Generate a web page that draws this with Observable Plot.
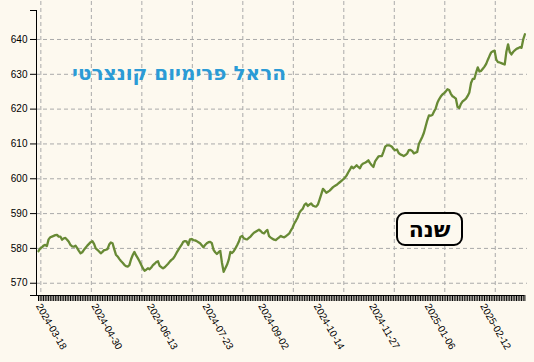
<!DOCTYPE html>
<html>
<head>
<meta charset="utf-8">
<script src="https://cdn.jsdelivr.net/npm/d3@7"></script>
<script src="https://cdn.jsdelivr.net/npm/@observablehq/plot@0.6"></script>
<style>
  html, body { margin: 0; padding: 0; background: #fdf9ef; }
  #wrap { position: relative; width: 534px; height: 362px; overflow: hidden; }
  #title { position: absolute; left: 0; top: 63px; width: 358px; text-align: center;
           font: bold 20px "DejaVu Sans", sans-serif; color: #2b9bd6; line-height: 21px; }
  #badge { position: absolute; left: 396px; top: 212px; width: 67px; height: 34px; box-sizing: border-box;
           border: 2.5px solid #000; border-radius: 9px; background: #fdf9ef;
           display: flex; align-items: center; justify-content: center;
           font: bold 22px "DejaVu Sans", sans-serif; color: #000; }
</style>
</head>
<body>
<div id="wrap">
  <div id="chart"></div>
  <div id="title" dir="rtl">הראל פרימיום קונצרטי</div>
  <div id="badge" dir="rtl">שנה</div>
</div>
<script>
const values = [
579.2,580.0,580.3,580.8,581.0,580.7,582.6,583.2,583.4,583.6,
583.8,583.9,583.4,583.4,582.5,582.9,583.0,582.5,581.9,581.0,
580.6,580.5,580.8,580.1,579.3,578.6,578.9,579.6,580.2,580.8,
581.3,581.8,582.1,581.3,580.0,579.6,579.1,578.6,579.0,579.5,
579.6,579.8,581.1,581.7,581.5,579.8,578.2,577.7,577.0,576.4,
575.9,575.3,574.9,574.8,575.2,576.9,578.1,579.0,578.0,577.2,
576.3,575.3,574.3,573.6,573.9,574.3,574.0,574.5,575.2,575.6,
576.1,576.3,575.0,574.6,574.3,574.6,575.1,575.6,576.2,576.7,
577.1,577.8,578.7,579.5,580.3,581.0,581.9,582.1,582.0,581.0,
582.6,582.7,582.4,582.3,582.1,581.8,581.5,580.9,580.3,581.0,
581.5,581.8,581.9,581.5,579.6,578.9,578.4,578.9,579.3,575.9,
573.3,574.3,575.3,576.7,579.0,578.7,579.2,580.0,580.9,581.9,
583.3,583.6,582.9,582.7,582.6,583.0,583.4,584.0,584.5,584.8,
585.1,585.4,585.0,584.5,584.3,584.9,585.3,583.5,583.1,582.8,
582.5,582.4,582.8,583.2,583.6,583.3,583.2,583.5,583.9,584.3,
585.2,586.0,587.2,588.0,588.9,590.2,590.9,591.4,592.5,592.9,
592.2,592.6,592.9,592.3,592.1,592.0,592.6,594.0,595.5,597.1,
596.6,596.0,596.3,596.6,597.1,597.6,597.9,598.2,598.6,599.0,
599.4,599.8,600.3,600.9,601.8,602.6,603.5,603.0,603.4,603.9,
603.4,603.0,604.0,604.4,604.6,604.9,605.3,604.5,603.9,603.4,
605.0,605.7,606.4,606.5,606.5,607.8,609.2,609.6,609.6,609.5,
609.2,608.5,608.2,608.4,607.4,607.0,606.8,606.5,606.8,607.2,
608.2,608.3,608.0,607.3,607.5,607.7,610.0,611.0,612.0,613.2,
615.0,616.8,618.2,618.1,618.3,619.3,620.2,621.8,622.8,623.6,
624.2,624.6,625.1,625.7,625.5,624.4,623.7,623.4,623.0,620.6,
620.3,621.5,622.2,622.6,623.0,623.8,624.8,627.5,628.7,628.7,
630.5,632.0,630.8,631.0,631.6,632.2,633.0,634.2,635.3,636.3,
636.6,636.8,634.2,633.5,633.4,633.2,633.0,632.8,636.5,638.6,
636.4,635.7,636.4,636.9,637.3,637.5,637.8,637.6,640.0,641.5
];
const labelDates = ["2024-03-18","2024-04-30","2024-06-13","2024-07-23","2024-09-02","2024-10-14","2024-11-27","2025-01-06","2025-02-12"];
const labelIndex = [0,33,66,99,132,165,198,231,264];
const yTicks = [570,580,590,600,610,620,630,640];

const N = values.length;
const [lo, hi] = d3.extent(values);
const pad = (hi - lo) * 0.1;
const yMin = lo - pad, yMax = hi + pad;
const gridX = d3.range(10).map(k => 1.4 + 30 * k);
const allIdx = d3.range(N);
const lineColor = "#688a35";
const gridStyle = {stroke: "#aaa", strokeWidth: 1, strokeDasharray: "4,3"};

const chart = Plot.plot({
  width: 534, height: 362,
  marginLeft: 36, marginRight: 7, marginTop: 10, marginBottom: 67,
  style: {background: "transparent", fontFamily: "'Liberation Sans', Arial, sans-serif", fontSize: "10px", color: "#000"},
  x: {type: "linear", domain: [0, N - 1], insetLeft: 2, insetRight: 2.6},
  y: {domain: [yMin, yMax]},
  marks: [
    Plot.ruleY(yTicks, {...gridStyle}),
    Plot.ruleX(gridX, {...gridStyle, insetTop: -9}),
    Plot.axisY({ticks: yTicks, tickSize: 6, tickPadding: 3, label: null}),
    Plot.axisY({ticks: [yMin, yMax], tickSize: 6, tickFormat: () => "", label: null}),
    Plot.ruleX([0], {dx: -2, stroke: "#000"}),
    Plot.ruleY([yMin], {x1: 0, x2: N - 1, insetLeft: -8, stroke: "#000"}),
    Plot.axisX({ticks: allIdx, tickSize: 6, tickFormat: () => "", label: null}),
    Plot.axisX({ticks: labelIndex, tickSize: 0, tickPadding: 9, tickRotate: 60,
                tickFormat: i => labelDates[labelIndex.indexOf(i)], label: null}),
    Plot.lineY(values, {x: (d, i) => i, y: d => d, stroke: lineColor, strokeWidth: 2.3})
  ]
});
document.getElementById("chart").appendChild(chart);
</script>
</body>
</html>
